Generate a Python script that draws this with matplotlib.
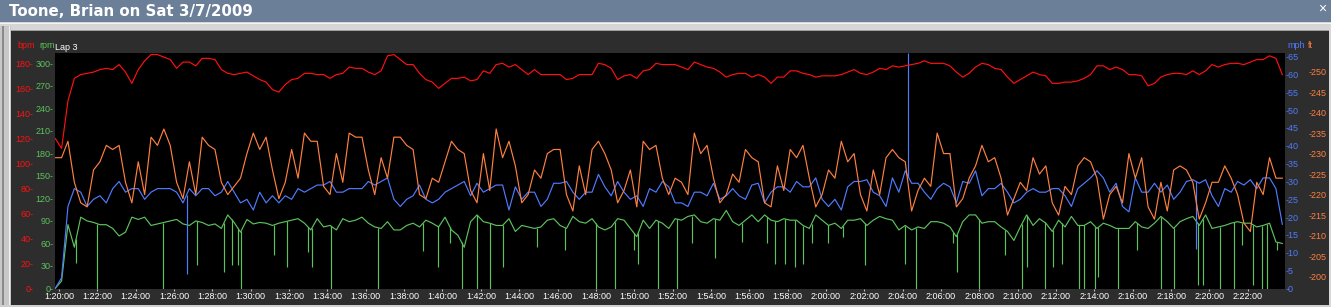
import matplotlib.pyplot as plt
import numpy as np
from matplotlib.patches import Rectangle

# samples, one every 20 s starting at 1:19:48
start_sec = -12
step_sec = 20

bpm = [120, 112, 150, 168, 171, 172, 173, 175, 176, 175, 179, 173, 164, 175, 182, 187, 187, 185, 183, 176, 181, 181, 178, 184, 184, 183, 175, 172, 171, 172, 173, 170, 167,
       165, 159, 157, 163, 167, 168, 172, 172, 171, 171, 168, 171, 172, 177, 176, 176, 173, 171, 174, 186, 187, 183, 179, 179, 172, 167, 165, 160, 164, 168, 168, 169, 166,
       167, 174, 172, 179, 180, 177, 179, 175, 171, 175, 171, 171, 171, 171, 167, 168, 171, 171, 171, 180, 179, 176, 167, 170, 171, 168, 174, 175, 180, 179, 179, 179, 177,
       175, 181, 179, 177, 176, 173, 169, 171, 172, 172, 169, 171, 169, 164, 169, 169, 174, 174, 172, 171, 169, 170, 170, 170, 171, 173, 175, 172, 171, 173, 176, 175, 178,
       177, 178, 179, 180, 182, 180, 180, 180, 178, 173, 169, 172, 177, 180, 179, 176, 175, 169, 164, 167, 170, 173, 171, 170, 164, 164, 165, 165, 166, 168, 171, 178, 178,
       175, 177, 175, 171, 171, 170, 162, 164, 169, 171, 172, 172, 171, 174, 171, 174, 179, 177, 179, 180, 180, 179, 181, 183, 183, 186, 184, 171]

rpm = [0, 10, 85, 55, 95, 90, 88, 85, 85, 80, 70, 75, 95, 92, 95, 84, 86, 88, 90, 92, 86, 84, 90, 88, 84, 86, 80, 98, 88, 75, 92, 86, 88,
       87, 84, 87, 89, 91, 93, 87, 78, 93, 82, 84, 78, 93, 89, 91, 95, 87, 82, 80, 89, 78, 78, 84, 87, 82, 91, 87, 82, 95, 78, 71, 55, 89,
       98, 89, 87, 84, 84, 93, 76, 84, 82, 80, 82, 91, 93, 84, 80, 96, 89, 87, 93, 82, 78, 82, 93, 91, 80, 69, 91, 80, 91, 87, 80, 93, 91,
       96, 98, 89, 87, 93, 91, 104, 89, 84, 91, 98, 89, 98, 91, 89, 93, 91, 91, 84, 80, 98, 91, 84, 87, 80, 91, 91, 93, 84, 91, 96, 93, 91,
       78, 84, 78, 82, 80, 89, 89, 87, 82, 69, 89, 98, 98, 87, 89, 89, 82, 76, 64, 82, 98, 84, 93, 87, 76, 91, 82, 96, 84, 84, 89, 80, 87,
       84, 80, 80, 80, 89, 82, 80, 87, 96, 89, 80, 89, 93, 96, 84, 98, 80, 82, 84, 87, 89, 87, 87, 82, 84, 87, 62, 60]

mph = [0, 3, 23, 28, 27, 23, 25, 26, 24, 28, 30, 27, 28, 28, 25, 27, 28, 28, 28, 27, 24, 28, 26, 28, 28, 26, 27, 30, 27, 24, 25, 22, 27,
       24, 26, 24, 26, 25, 28, 27, 28, 29, 29, 30, 27, 27, 28, 28, 28, 30, 29, 30, 31, 25, 23, 25, 26, 29, 25, 24, 25, 27, 28, 29, 30, 26,
       29.5, 27, 28, 29, 29, 22, 28.5, 25, 27, 27, 23, 25, 29.5, 29.5, 30, 27, 25, 27, 27, 32, 28.5, 26, 30, 27, 25, 26, 23, 28, 27, 30, 28.5, 24, 24,
       23, 27, 27, 26, 29.5, 25, 26, 28, 26, 25, 29, 29.5, 24, 27, 28.5, 28.5, 27, 30, 28.5, 28.5, 31, 25, 23, 25, 22, 28.5, 30, 30, 30.5, 27, 26, 23, 31,
       27, 33, 29.5, 29.5, 27, 25, 28, 29.5, 28.5, 24, 30, 29.5, 33, 26, 28, 28, 29.5, 27, 24, 25, 27, 28, 27, 27, 28, 28, 26, 23, 28, 29.5, 31, 33, 31,
       27, 29.5, 23, 21.5, 31, 27, 27, 29.5, 27, 29, 25, 27, 30, 30.5, 29.5, 30.5, 26, 23, 28, 27, 30, 29, 30.5, 28, 31, 31, 28, 18]

ft = [229, 229, 233, 223, 218, 217, 226, 228, 232, 231, 232, 223, 218, 228, 220, 234, 232, 236, 232, 223, 219, 228, 220, 234, 232, 231, 223, 220, 222, 224, 230, 235, 231,
      234, 226, 219, 223, 231, 224, 235, 233, 233, 222, 220, 230, 223, 235, 234, 234, 226, 220, 229, 224, 234, 234, 232, 231, 220, 219, 224, 223, 228, 233, 231, 230, 221,
      218, 230, 221, 236, 229, 233, 227, 218, 220, 226, 224, 230, 231, 231, 220, 216, 227, 220, 231, 233, 230, 226, 218, 221, 226, 217, 233, 231, 232, 224, 220, 224, 223,
      220, 235, 230, 232, 224, 218, 220, 225, 223, 231, 229, 228, 218, 217, 227, 221, 231, 229, 232, 224, 217, 220, 226, 224, 233, 228, 230, 220, 216, 226, 220, 229, 231,
      229, 228, 216, 221, 224, 222, 235, 230, 230, 217, 219, 224, 227, 232, 228, 229, 224, 215, 219, 223, 221, 229, 225, 227, 218, 215, 222, 220, 227, 229, 228, 224, 214,
      220, 222, 218, 230, 224, 229, 217, 214, 223, 216, 226, 227, 226, 223, 214, 218, 223, 223, 227, 224, 220, 213, 211, 223, 220, 229, 224, 224]

# short cadence dropouts: minute after 1:20:00, value at the bottom of the dip
rpm_drop_t = [0.89, 2.0, 5.42, 7.2, 8.6, 9.0, 9.32, 9.5, 11.22, 11.87, 13.0, 13.2, 14.2, 16.65, 19.0,
              19.74, 20.39, 21.0, 21.78, 22.48, 23.17, 24.91, 26.39, 27.99, 29.0, 30.0, 30.21, 31.25, 32.21, 33.0,
              34.21, 35.6, 36.9, 37.34, 37.86, 38.38, 38.82, 39.25, 40.12, 40.9, 42.03, 44.12, 44.7, 46.64, 46.85,
              47.98, 49.35, 50.22, 50.5, 51.4, 51.85, 52.29, 53.18, 53.48, 54.05, 54.2, 55.24, 56.2, 57.45, 58.16,
              59.38, 59.68, 60.55, 61.29, 61.68, 62.28, 62.72, 62.98, 63.5]
rpm_drop_v = [34, 0, 0, 31, 22, 31, 31, 0, 44, 29, 49, 29, 0, 0, 50,
              29, 60, 0, 0, 0, 29, 55, 51, 0, 0, 51, 33, 0, 0, 60,
              40, 62, 60, 33, 33, 29, 33, 60, 60, 68, 31, 33, 0, 60, 22,
              0, 44, 0, 29, 0, 29, 33, 0, 0, 0, 15, 0, 51, 0, 0,
              5, 5, 0, 0, 58, 5, 0, 0, 51]

# single-sample speed glitches
mph_spike_t = [6.66, 44.29, 59.3]
mph_spike_v = [4, 66, 11]

time_labels = ['1:20:00', '1:22:00', '1:24:00', '1:26:00', '1:28:00', '1:30:00', '1:32:00', '1:34:00',
               '1:36:00', '1:38:00', '1:40:00', '1:42:00', '1:44:00', '1:46:00', '1:48:00', '1:50:00',
               '1:52:00', '1:54:00', '1:56:00', '1:58:00', '2:00:00', '2:02:00', '2:04:00', '2:06:00',
               '2:08:00', '2:10:00', '2:12:00', '2:14:00', '2:16:00', '2:18:00', '2:20:00', '2:22:00']
bpm_ticks = [0, 20, 40, 60, 80, 100, 120, 140, 160, 180]
rpm_ticks = [0, 30, 60, 90, 120, 150, 180, 210, 240, 270, 300]
mph_ticks = [0, 5, 10, 15, 20, 25, 30, 35, 40, 45, 50, 55, 60, 65]
ft_ticks = [200, 205, 210, 215, 220, 225, 230, 235, 240, 245, 250]

t = (start_sec + step_sec * np.arange(len(bpm))) / 60.0

RED = '#ff1010'
GREEN = '#5cc25c'
BLUE = '#4f7bff'
ORANGE = '#ff8040'
LW = 0.85
SMALL = 6.5
plt.rcParams['font.family'] = ['Liberation Sans', 'DejaVu Sans']

W, H = 1331, 307
fig = plt.figure(figsize=(W / 100, H / 100), dpi=100)
fig.patch.set_facecolor('#2d2d2d')


def fx(x):
    return x / W


def fy(y):
    return 1 - y / H


def box(x0, y0, x1, y1, color):
    fig.add_artist(Rectangle((fx(x0), fy(y1)), (x1 - x0) / W, (y1 - y0) / H,
                             transform=fig.transFigure, facecolor=color, edgecolor='none'))


# window chrome
box(0, 0, W, 22, '#6b7f99')
box(0, 22, W, 30, '#d6d6d6')
box(0, 23, W, 24, '#f4f4f4')
box(0, 30, W, 31, '#a0a0a0')
box(0, 26, 11, H, '#c8c8c8')
box(2, 26, 4, H, '#8a8a8a')
box(9, 26, 10, H, '#f0f0f0')
box(0, 305, W, H, '#d0d0d0')
box(W - 2, 26, W, H, '#d8d8d8')
fig.text(fx(9), fy(11.5), 'Toone, Brian on Sat 3/7/2009', color='white', fontsize=10.8,
         fontweight='bold', family='DejaVu Sans', va='center', ha='left')
fig.text(fx(1322), fy(9), '\u00d7', color='white', fontsize=10, va='center', ha='center')

ax = fig.add_axes([fx(55), fy(288.5), (1285 - 55) / W, (288.5 - 52.7) / H])
ax.set_facecolor('black')

# cadence (green) on the base axes
ax.plot(t, rpm, color=GREEN, lw=LW)
ax.vlines(rpm_drop_t, rpm_drop_v, np.interp(rpm_drop_t, t, rpm), color=GREEN, lw=LW)
ax.set_ylim(0, 314.1)
ax.set_xlim(-0.209, 63.94)
ax.set_yticks(rpm_ticks, [f'{v}-' for v in rpm_ticks])
ax.tick_params(axis='y', length=0, pad=1.2, labelcolor=GREEN, labelsize=SMALL)
ax.set_xticks(np.arange(len(time_labels)) * 2, time_labels)
ax.tick_params(axis='x', length=1.6, width=0.8, color='#c0c0c0', pad=1,
               labelcolor='white', labelsize=SMALL)

# speed (blue)
ax_mph = ax.twinx()
ax_mph.plot(t, mph, color=BLUE, lw=LW)
ax_mph.vlines(mph_spike_t, np.interp(mph_spike_t, t, mph), mph_spike_v, color=BLUE, lw=LW)
ax_mph.set_ylim(0, 66.1)
ax_mph.set_yticks(mph_ticks, [f'-{v}' for v in mph_ticks])
ax_mph.tick_params(axis='y', length=0, pad=0.7, labelcolor=BLUE, labelsize=SMALL)

# altitude (orange)
ax_ft = ax.twinx()
ax_ft.plot(t, ft, color=ORANGE, lw=LW)
ax_ft.set_ylim(197.1, 254.6)
ax_ft.spines['right'].set_position(('outward', 16))
ax_ft.set_yticks(ft_ticks, [f'-{v}' for v in ft_ticks])
ax_ft.tick_params(axis='y', length=0, pad=0.7, labelcolor=ORANGE, labelsize=SMALL)

# heart rate (red)
ax_bpm = ax.twinx()
ax_bpm.plot(t, bpm, color=RED, lw=LW)
ax_bpm.set_ylim(0, 188.5)
ax_bpm.yaxis.tick_left()
ax_bpm.spines['left'].set_position(('outward', 14.4))
ax_bpm.set_yticks(bpm_ticks, [f'{v}-' for v in bpm_ticks])
ax_bpm.tick_params(axis='y', length=0, pad=1.2, labelcolor=RED, labelsize=SMALL)

for a in (ax, ax_mph, ax_ft, ax_bpm):
    for s in a.spines.values():
        s.set_visible(False)

fig.text(fx(17), fy(45.5), 'bpm', color=RED, fontsize=SMALL, va='center')
fig.text(fx(39), fy(45.5), 'rpm', color=GREEN, fontsize=SMALL, va='center')
fig.text(fx(55), fy(47), 'Lap 3', color='white', fontsize=SMALL, va='center')
fig.text(fx(1287), fy(45.5), 'mph', color=BLUE, fontsize=SMALL, va='center')
fig.text(fx(1307.5), fy(45.5), 'ft', color=ORANGE, fontsize=SMALL, va='center')

fig.savefig('out.png', dpi=100, facecolor=fig.get_facecolor())
